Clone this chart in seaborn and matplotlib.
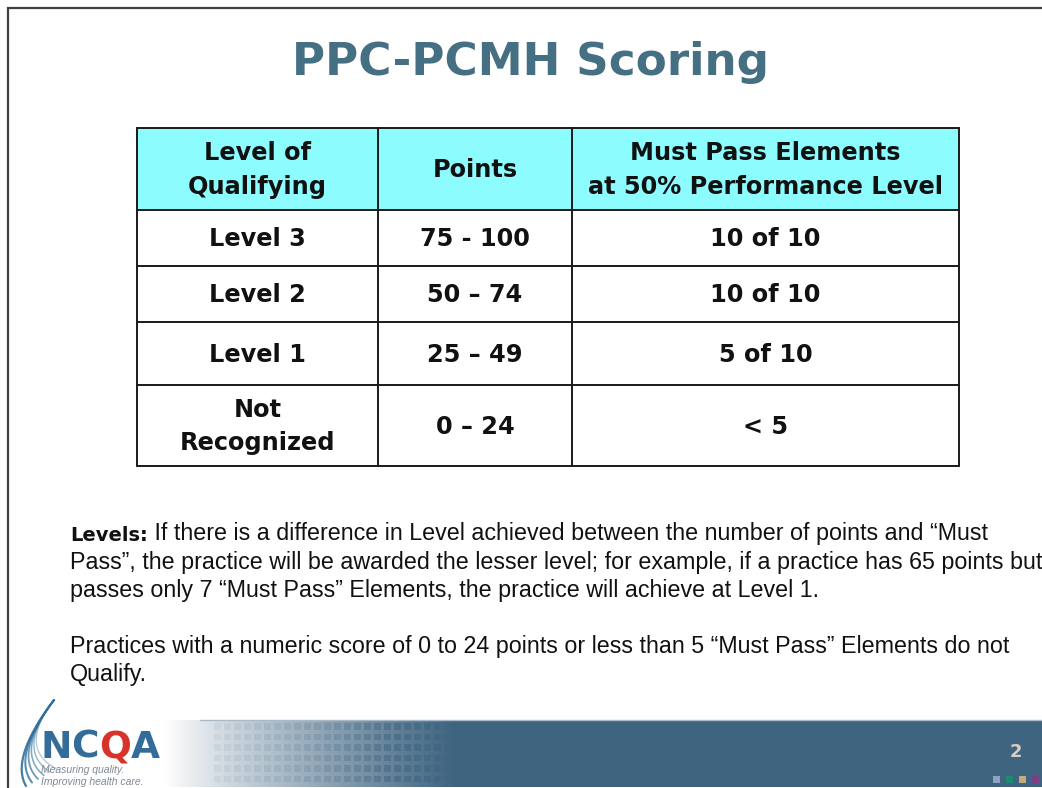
import numpy as np
import pandas as pd
import matplotlib
matplotlib.use("Agg")
import matplotlib.pyplot as plt
import seaborn as sns
from matplotlib.patches import Rectangle

# ---------------- data ----------------
title = "PPC-PCMH Scoring"
header = ["Level of\nQualifying", "Points", "Must Pass Elements\nat 50% Performance Level"]
levels = ["Level 3", "Level 2", "Level 1", "Not\nRecognized"]
points = ["75 - 100", "50 \u2013 74", "25 \u2013 49", "0 \u2013 24"]
must_pass = ["10 of 10", "10 of 10", "5 of 10", "< 5"]
note_lead = "Levels:"
note_lines = [
    " If there is a difference in Level achieved between the number of points and \u201cMust",
    "Pass\u201d, the practice will be awarded the lesser level; for example, if a practice has 65 points but",
    "passes only 7 \u201cMust Pass\u201d Elements, the practice will achieve at Level 1.",
    "",
    "Practices with a numeric score of 0 to 24 points or less than 5 \u201cMust Pass\u201d Elements do not",
    "Qualify.",
]
logo_letters = ["N", "C", "Q", "A"]
tagline = ["Measuring quality.", "Improving health care."]
page_number = "2"

# ---------------- style ----------------
sns.set_theme(style="white")
plt.rcParams["font.family"] = ["DejaVu Sans"]

W, H = 1042, 788
fig = plt.figure(figsize=(W / 100, H / 100), dpi=100)
ax = fig.add_axes([0, 0, 1, 1])
ax.set_xlim(0, W)
ax.set_ylim(H, 0)
ax.axis("off")

TITLE_C = "#456f82"
HEAD_C = "#8cfcff"
BAND_C = "#3f6480"
HEAD_FONT = ["DejaVu Sans"]
BODY_FONT = ["Liberation Sans", "DejaVu Sans"]

# slide border
ax.plot([8, 8, W], [H, 8, 8], color="#404040", lw=1.6, solid_joinstyle="miter", zorder=5)

# title
ax.text(531, 62, title, ha="center", va="center", fontsize=32.6, fontweight="bold",
        color=TITLE_C, family=HEAD_FONT)

# ---------------- table ----------------
col_edges = [137, 378, 572, 959]
row_edges = [128, 210, 266, 322, 385, 466]
table = pd.DataFrame({"level": levels, "points": points, "must": must_pass})

ax.add_patch(Rectangle((col_edges[0], row_edges[0]), col_edges[-1] - col_edges[0],
                       row_edges[1] - row_edges[0], facecolor=HEAD_C, edgecolor="none", zorder=1))
for y in row_edges:
    ax.plot([col_edges[0], col_edges[-1]], [y, y], color="#1a1a1a", lw=1.4, zorder=3)
for x in col_edges:
    ax.plot([x, x], [row_edges[0], row_edges[-1]], color="#1a1a1a", lw=1.4, zorder=3)

def cell_center(r, c):
    return (col_edges[c] + col_edges[c + 1]) / 2, (row_edges[r] + row_edges[r + 1]) / 2

CELL_FS = 17.3
for c, h in enumerate(header):
    x, y = cell_center(0, c)
    ax.text(x, y + 1, h, ha="center", va="center", fontsize=CELL_FS, fontweight="bold",
            family=HEAD_FONT, color="#111111", linespacing=1.5, zorder=4)
for r, row in enumerate(table.itertuples(index=False)):
    for c, val in enumerate(row):
        x, y = cell_center(r + 1, c)
        ax.text(x, y + 1, val, ha="center", va="center", fontsize=CELL_FS, fontweight="bold",
                family=HEAD_FONT, color="#111111", linespacing=1.5, zorder=4)

# ---------------- note text ----------------
line_y = [535, 563, 591, 619, 647, 675]
BODY_FS = 16.75
lead = ax.text(70, line_y[0] + 6, note_lead, ha="left", va="baseline", fontsize=14,
               fontweight="bold", family=HEAD_FONT, color="#111111")
ax.annotate(note_lines[0], xy=(1, 0), xycoords=lead, ha="left", va="bottom",
            fontsize=BODY_FS, family=BODY_FONT, color="#111111")
for y, line in zip(line_y[1:], note_lines[1:]):
    if line:
        ax.text(70, y + 6, line, ha="left", va="baseline", fontsize=BODY_FS, family=BODY_FONT,
                color="#111111")

# ---------------- footer ----------------
xs = np.linspace(0, W, W)
t = np.clip((xs - 165) / (455 - 165), 0, 1) ** 0.9
white = np.array([1.0, 1.0, 1.0])
band = np.array(matplotlib.colors.to_rgb(BAND_C))
grad = (1 - t)[:, None] * white + t[:, None] * band
img = np.repeat(grad[None, :, :], 2, axis=0)
ax.imshow(img, extent=[0, W, 787, 720], aspect="auto", zorder=0, interpolation="bilinear")
ax.plot([200, W], [720, 720], color="#a9bac6", lw=1.0, zorder=1)

# square pattern
sq_cols = np.arange(214, 462, 10)
sq_rows = np.arange(723, 785, 10.5)
for x in sq_cols:
    tt = np.clip((x - 165) / (455 - 165), 0, 1)
    shade = min(1, tt * 1.15 + 0.12)
    col = (1 - shade) * white + shade * band
    alpha = 0.55 if x < 440 else 0.35
    for y in sq_rows:
        ax.add_patch(Rectangle((x, y), 6.5, 6.5, facecolor=col, edgecolor="none",
                               alpha=alpha, zorder=1))

# page number and dots
ax.text(1016, 752, page_number, ha="center", va="center", fontsize=13, fontweight="bold",
        color="#d8cfc0")
for x, c in zip([996, 1009, 1022, 1035], ["#8fa2c4", "#1d8a72", "#c4ab78", "#7b3f86"]):
    ax.add_patch(Rectangle((x - 3.5, 776), 7, 7, facecolor=c, edgecolor="none", zorder=2))

# logo swoosh (feather-like bundle of curves)
s = np.linspace(0, 1, 80)
for i in range(6):
    p0 = np.array([54.0, 700.0])
    p1 = np.array([10.0 + 1.5 * i, 758.0 - 2 * i])
    p2 = np.array([26.0 + 6 * i, 786.0 - 3.5 * i])
    pts = ((1 - s) ** 2)[:, None] * p0 + (2 * (1 - s) * s)[:, None] * p1 + (s ** 2)[:, None] * p2
    ax.plot(pts[:, 0], pts[:, 1], color="#2f6f9c", lw=1.6 - 0.15 * i, alpha=0.9 - 0.1 * i,
            zorder=2, solid_capstyle="round")

lx = 40
logo_cols = ["#336c9a", "#336c9a", "#d8332a", "#336c9a"]
prev = None
for ch, c in zip(logo_letters, logo_cols):
    if prev is None:
        prev = ax.text(lx, 758, ch, ha="left", va="baseline", fontsize=27, fontweight="bold",
                       color=c, family=["DejaVu Sans"], zorder=3)
    else:
        prev = ax.annotate(ch, xy=(1, 0), xycoords=prev, ha="left", va="bottom", fontsize=27,
                           fontweight="bold", color=c, family=["DejaVu Sans"], zorder=3)
for y, line in zip([770, 782], tagline):
    ax.text(41, y, line, ha="left", va="center", fontsize=7.5, style="italic",
            color="#7f8a96", family=BODY_FONT, zorder=3,
            bbox=dict(boxstyle="square,pad=0.05", facecolor="white", edgecolor="none", alpha=0.0))

fig.savefig("out.png", dpi=100)
